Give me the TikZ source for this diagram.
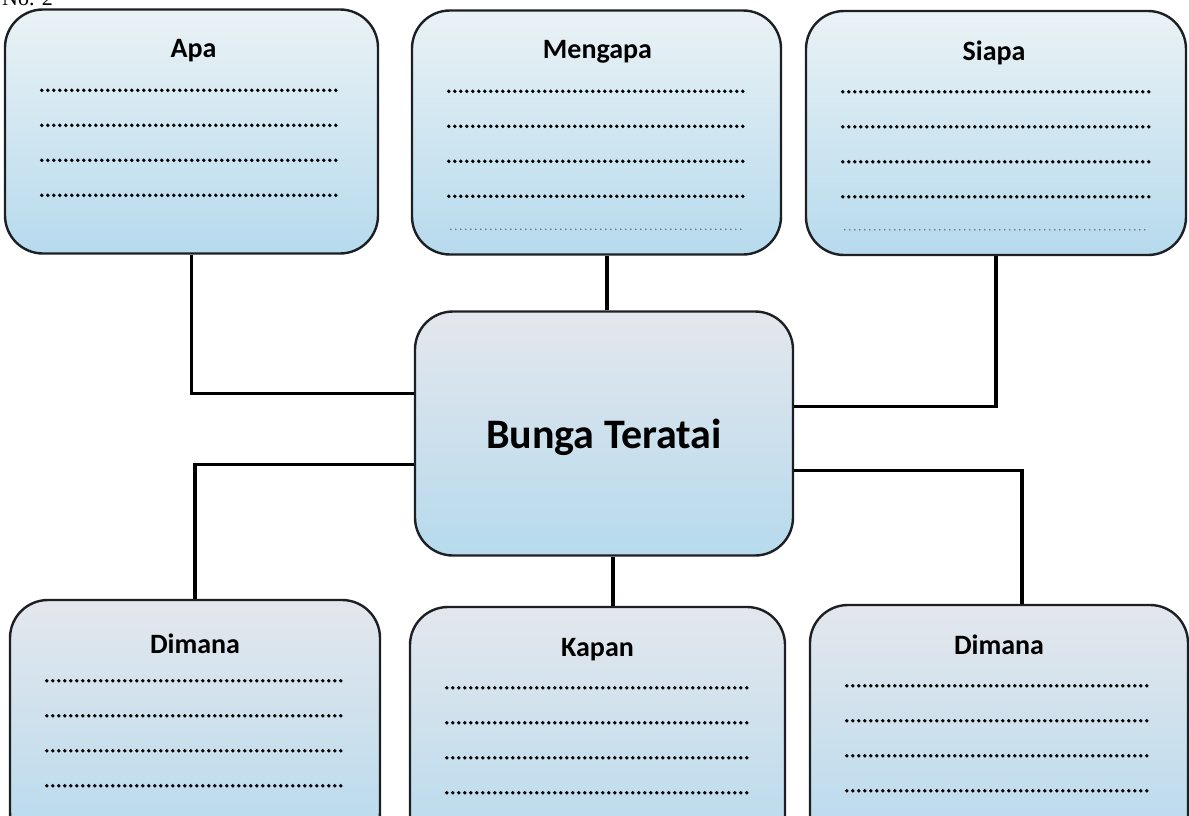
\documentclass[tikz,border=0pt]{standalone}
\usepackage{fontspec}
\setmainfont{Carlito}
\newfontfamily\nomorfont{Liberation Serif}
\usetikzlibrary{calc}
\definecolor{atas}{RGB}{234,242,245}
\definecolor{atasabu}{RGB}{228,231,237}
\definecolor{bawah}{RGB}{182,218,237}
\definecolor{tepi}{RGB}{28,32,36}

\begin{document}
\begin{tikzpicture}[x=1pt,y=-1pt,
  kotak/.style={draw=tepi,line width=2.4pt,rounded corners=38pt,top color=atas,bottom color=bawah,minimum height=244pt,inner sep=0pt},
  judul/.style={font=\bfseries\fontsize{28}{30}\selectfont},
  titik/.style={line width=3.8pt,line cap=round,dash pattern=on 0pt off 6pt},
  samar/.style={line width=1.8pt,line cap=round,dash pattern=on 0pt off 5pt,black!55},
  garis/.style={line width=3.6pt}]
\useasboundingbox[fill=white] (0,0) rectangle (1189,816);
\node[font=\nomorfont\fontsize{22}{24}\selectfont,anchor=base west,inner sep=0pt] (nomor) at (2,6) {No. 2};
% kotak atas
\node[kotak,minimum width=373pt] (apa) at (191.5,131.5) {};
\node[kotak,minimum width=369pt] (mengapa) at (596.5,132.5) {};
\node[kotak,minimum width=380pt] (siapa) at (996,133) {};
% pusat
\node[kotak,minimum width=378pt,top color=atasabu] (pusat) at (604,433.5) {};
% kotak bawah
\node[kotak,minimum width=370pt,top color=atasabu,minimum height=250pt] (dimanaa) at (195,725) {};
\node[kotak,minimum width=375pt,top color=atasabu,minimum height=250pt] (kapan) at (597.5,732) {};
\node[kotak,minimum width=378pt,top color=atasabu,minimum height=250pt] (dimanab) at (999,730) {};

\node[judul] (tapa) at ($(apa.north)+(2,42)$) {Apa};
\node[judul] (tmengapa) at ($(mengapa.north)+(1,42)$) {Mengapa};
\node[judul] (tsiapa) at ($(siapa.north)+(-2,43)$) {Siapa};
\node[judul] (tdimanaa) at ($(dimanaa.north)+(0,45)$) {Dimana};
\node[judul] (tkapan) at ($(kapan.north)+(0,44)$) {Kapan};
\node[judul] (tdimanab) at ($(dimanab.north)+(0,41)$) {Dimana};
\node[font=\bfseries\fontsize{42}{46}\selectfont] (tpusat) at ($(pusat)+(0,4)$) {Bunga Teratai};

\foreach \n in {apa,mengapa,siapa,dimanaa,kapan,dimanab}
  \foreach \dy in {82,117,152,187}
    \draw[titik] ($(\n.north west)+(38,\dy)$) -- ($(\n.north east)+(-38,\dy)$);
\foreach \n in {mengapa,siapa}
  \draw[samar] ($(\n.north west)+(40,220)$) -- ($(\n.north east)+(-40,220)$);

% penghubung
\draw[garis] (apa.south) |- ([yshift=40pt]pusat.west);
\draw[garis] ([xshift=3pt]pusat.north) -- ([xshift=3pt]pusat.north |- mengapa.south);
\draw[garis] (siapa.south) |- ([yshift=27pt]pusat.east);
\draw[garis] ([yshift=-31pt]pusat.west) -| (dimanaa.north);
\draw[garis] ([xshift=9pt]pusat.south) -- ([xshift=9pt]pusat.south |- kapan.north);
\draw[garis] ([yshift=-37pt]pusat.east) -| ([xshift=23pt]dimanab.north);
\end{tikzpicture}
\end{document}
